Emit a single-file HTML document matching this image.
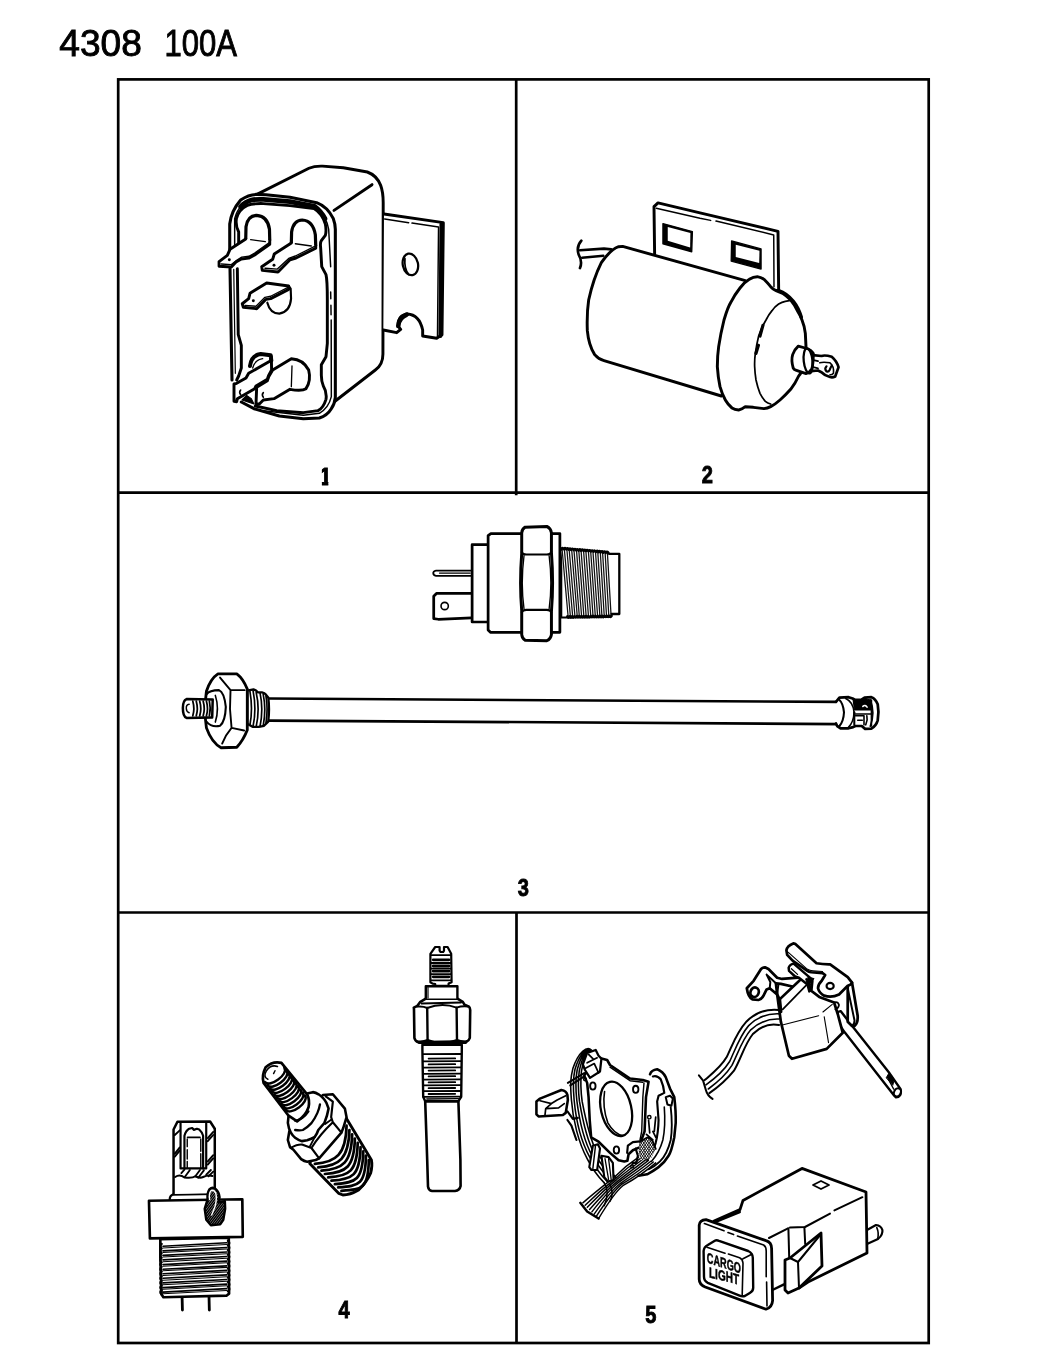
<!DOCTYPE html>
<html><head><meta charset="utf-8"><title>4308 100A</title>
<style>
html,body{margin:0;padding:0;background:#fff;}
body{width:1050px;height:1350px;overflow:hidden;position:relative;font-family:"Liberation Sans",sans-serif;}
svg{position:absolute;left:0;top:0;display:block;filter:grayscale(1);}
.s{fill:none;stroke:#000;stroke-width:2.2;stroke-linecap:round;stroke-linejoin:round;}
.t{fill:none;stroke:#000;stroke-width:1.5;stroke-linecap:round;stroke-linejoin:round;}
.w{fill:#fff;stroke:#000;stroke-width:2.2;stroke-linecap:round;stroke-linejoin:round;}
.f{fill:#000;stroke:#000;stroke-width:1;stroke-linejoin:round;}
.lbl{font-family:"Liberation Sans",sans-serif;font-weight:bold;font-size:24.5px;fill:#000;}
.ttl{font-family:"Liberation Sans",sans-serif;font-size:37px;fill:#000;}
</style></head><body>
<svg width="1050" height="1350" viewBox="0 0 1050 1350">
<!-- title -->
<g class="ttl" stroke="#000" stroke-width="0.9"><text x="59.3" y="55.6" textLength="82.5" lengthAdjust="spacingAndGlyphs">4308</text><text x="164.5" y="55.6" textLength="72.5" lengthAdjust="spacingAndGlyphs">100A</text></g>
<!-- frame -->
<g fill="none" stroke="#000" stroke-width="2.7" stroke-linejoin="miter">
<rect x="118.2" y="79.4" width="810.5" height="1263.6"/>
<path d="M516.2 79.4V495.2M118.2 492.7H928.7M118.2 912.5H928.7M516.5 912.5V1343"/>
</g>
<!-- labels -->
<!--LABELS-->
<g class="lbl" text-anchor="middle" stroke="#000" stroke-width="0.9">
<clipPath id="c1"><rect x="321.9" y="460" width="6.4" height="30"/></clipPath><g clip-path="url(#c1)"><text id="lb1" transform="translate(325.4 485) scale(0.9 1)" x="0" y="0">1</text></g>
<text id="lb2" transform="translate(707.4 483.1) scale(0.82 1)" x="0" y="0">2</text>
<text id="lb3" transform="translate(523.4 896.2) scale(0.82 1)" x="0" y="0">3</text>
<text id="lb4" transform="translate(344.2 1317.9) scale(0.82 1)" x="0" y="0">4</text>
<text id="lb5" transform="translate(650.8 1322.9) scale(0.82 1)" x="0" y="0">5</text>
</g>
<!--/LABELS-->
<!--P1-->
<!-- Panel 1: relay. coords = 7.5x zoom, origin (210,160) -->
<g transform="translate(210,160) scale(0.133333)" fill="none" stroke="#000" stroke-width="22" stroke-linecap="round" stroke-linejoin="round">
<!-- box body -->
<path d="M356 256L742 62Q783 44 844 46L1000 58L1180 90Q1250 115 1280 190Q1299 240 1299 320L1297 1455Q1297 1535 1240 1575L930 1815"/>
<path d="M930 378L1215 185"/>
<!-- bracket -->
<path d="M1305 405L1750 470L1740 1310L1700 1337L1595 1320L1595 1275Q1570 1160 1480 1155Q1410 1165 1410 1245L1430 1270L1400 1295L1300 1275" fill="#fff"/>
<path d="M1412 1245Q1415 1185 1475 1160" stroke-width="34"/>
<path d="M1310 442L1490 470M1515 473L1714 502L1706 1334" stroke-width="11"/>
<path d="M1736 480L1728 1320" stroke-width="30"/>
<ellipse cx="1503" cy="783" rx="57" ry="82" transform="rotate(-12 1503 783)" stroke-width="17"/>
<path d="M1462 740Q1455 815 1490 858" stroke-width="13"/>
<!-- front face outer outline -->
<path d="M148 670L148 480Q160 380 230 300Q290 258 350 258L420 260L600 280L800 320Q880 350 925 440Q940 480 940 520L940 1780Q935 1830 910 1865Q880 1915 820 1935L700 1940L520 1920L330 1865L235 1815" fill="#fff" stroke-width="23"/>
<path d="M150 815L165 1650" stroke-width="23"/>
<!-- thick top band -->
<path d="M230 350Q265 312 310 300Q340 294 400 296L600 312L785 348Q835 385 862 440" stroke-width="36"/>
<!-- rim thin line -->
<path d="M185 640L185 440Q200 380 240 340" stroke-width="11"/>
<path d="M860 430Q885 480 890 520L905 800" stroke-width="11"/>
<path d="M905 990L906 1040M907 1090L908 1160M909 1200L910 1775Q890 1860 820 1900L700 1915L400 1880" stroke-width="11"/>
<path d="M178 820L190 1600" stroke-width="9"/>
<!-- gasket line -->
<path d="M215 620L215 540Q190 490 198 440Q215 370 280 340Q320 325 400 327L600 342L780 364Q840 400 865 480Q875 530 865 565L835 605Q825 620 830 660L838 800L870 860Q880 900 880 1050L880 1375L870 1475L835 1535L835 1615Q835 1660 850 1695Q878 1740 870 1795Q850 1860 810 1880L700 1895L500 1880L340 1845"/>
<path d="M205 815L212 1310L235 1390L235 1560L215 1620L200 1650"/>
<!-- terminal 1 -->
<path d="M268 592L270 500Q282 418 350 415Q432 420 446 520L448 600" fill="#fff" stroke-width="24"/>
<path d="M268 592L150 670L130 715L68 762L68 797L160 802L195 765L235 742L290 736L335 712L448 632L448 600" fill="#fff"/>
<path d="M85 780L158 785L200 752L238 728L292 722L335 698L440 622" stroke-width="10"/>
<path d="M305 597L415 612" stroke-width="10"/>
<circle cx="145" cy="748" r="11" fill="#000" stroke="none"/>
<!-- terminal 2 -->
<path d="M610 622L612 540Q625 452 692 450Q772 455 790 560L793 640" fill="#fff" stroke-width="24"/>
<path d="M610 622L482 705L470 745L388 800L392 828L510 840L600 748L645 735L793 662L793 640" fill="#fff"/>
<path d="M412 812L505 818L590 738L640 720L785 648" stroke-width="10"/>
<path d="M640 628L760 645" stroke-width="10"/>
<circle cx="480" cy="790" r="11" fill="#000" stroke="none"/>
<!-- terminal 3 -->
<path d="M430 1070Q450 1150 520 1152Q600 1140 608 1040L605 965L590 945" stroke-width="16"/>
<path d="M590 945L425 922L300 1000L290 1040L242 1078L250 1105L350 1115L420 1045L455 1040L590 970Z" fill="#fff"/>
<path d="M262 1090L345 1097L412 1030L455 1022L585 955" stroke-width="10"/>
<circle cx="325" cy="1055" r="11" fill="#000" stroke="none"/>
<!-- terminal 5 (bottom right) -->
<path d="M470 1575L610 1490Q700 1495 740 1575Q760 1655 720 1715Q690 1735 600 1720L480 1790L400 1800L370 1830L345 1830L350 1705L430 1655L440 1625Z" fill="#fff"/>
<path d="M615 1545L610 1700" stroke-width="10"/>
<path d="M400 1745Q385 1760 400 1780" stroke-width="12"/>
<!-- terminal 4 (bottom left) -->
<path d="M300 1545Q310 1465 380 1455L455 1465L460 1505" stroke-width="30"/>
<path d="M455 1505L290 1600L270 1635L200 1675L180 1680L180 1810L200 1813L205 1790L335 1715L345 1695L430 1645L440 1615L462 1575L460 1475Z" fill="#fff"/>
<path d="M320 1560Q335 1500 395 1490" stroke-width="10"/>
<path d="M230 1725Q215 1740 230 1760" stroke-width="12"/>
<path d="M240 1800L275 1765L310 1790L330 1830Z" fill="#000" stroke-width="8"/>
</g>
<!--/P1-->
<!--P2-->
<!-- Panel 2: capacitor. coords = 7.5x zoom, origin (560,180) -->
<g transform="translate(560,180) scale(0.133333)" fill="none" stroke="#000" stroke-width="22" stroke-linecap="round" stroke-linejoin="round">
<!-- bracket -->
<path d="M710 580L705 200L735 172L1050 247L1635 385L1640 830L1300 800Z" fill="#fff"/>
<path d="M722 212L1050 287L1130 303M1170 308L1603 412L1605 800" stroke-width="11"/>
<path d="M772 327L993 387L988 538L772 478Z" fill="#000" stroke-width="10"/>
<path d="M808 352L978 398L976 506L808 456Z" fill="#fff" stroke="none"/>
<path d="M1287 457L1508 517L1508 668L1284 608Z" fill="#000" stroke-width="10"/>
<path d="M1318 485L1496 530L1494 622L1318 577Z" fill="#fff" stroke="none"/>
<!-- wire -->
<path d="M160 455Q120 500 140 560Q170 610 150 660" stroke-width="20"/>
<path d="M150 527L330 515L385 520" stroke-width="20"/>
<path d="M165 583L325 568" stroke-width="18"/>
<!-- cylinder body -->
<path d="M1390 755L470 498L440 500Q380 520 310 620Q250 740 215 900Q200 1000 205 1130Q215 1240 260 1310Q290 1345 330 1355L1210 1620L1400 1500Z" fill="#fff"/>
<!-- end cap -->
<path d="M1230 1050Q1260 950 1280 920Q1310 860 1350 810Q1385 765 1420 745Q1450 725 1480 725Q1510 730 1530 745Q1555 770 1580 800Q1600 822 1620 830L1670 850Q1700 870 1730 900Q1760 935 1780 980Q1800 1010 1815 1050Q1835 1100 1840 1150L1845 1250L1810 1440Q1800 1460 1790 1470Q1765 1525 1730 1570Q1690 1615 1650 1650Q1610 1685 1580 1700Q1555 1712 1530 1715L1450 1705L1390 1700Q1365 1720 1340 1725Q1310 1722 1290 1710Q1260 1685 1240 1650Q1215 1605 1200 1550Q1185 1480 1180 1400Q1180 1320 1190 1250Q1205 1150 1230 1050Z" fill="#fff"/>
<path d="M1720 905L1690 910Q1665 915 1640 930Q1610 950 1590 980Q1565 1010 1545 1050Q1510 1110 1490 1170Q1475 1230 1465 1300Q1458 1350 1460 1400Q1462 1450 1470 1500Q1482 1555 1500 1600Q1518 1635 1540 1660Q1558 1675 1580 1680" stroke-width="13"/>
<path d="M1522 1090L1500 1170M1488 1240L1470 1300" stroke-width="24"/>
<path d="M1640 830Q1700 850 1750 910Q1790 960 1810 1030" stroke-width="26"/>
<!-- terminal -->
<path d="M1884 1433L1935 1429L1961 1442Q1986 1468 2025 1478Q2044 1484 2064 1474L2089 1404Q2076 1359 2038 1326Q1986 1310 1961 1320L1896 1314Z" fill="#fff" stroke-width="20"/>
<path d="M1877 1346L1935 1359M1877 1397L1935 1413" stroke-width="13"/>
<path d="M1948 1371Q1974 1362 2025 1371Q2057 1397 2051 1449Q2040 1462 2025 1461" stroke-width="12"/>
<path d="M1999 1397Q1980 1416 1999 1436Q2015 1440 2022 1425Q2030 1404 2038 1391" stroke-width="16"/>
<path d="M1787 1246Q1755 1275 1745 1310Q1732 1352 1749 1410Q1755 1422 1768 1426L1845 1452Q1871 1446 1888 1418Q1900 1380 1900 1301Q1885 1272 1845 1262Z" fill="#fff" stroke-width="21"/>
<ellipse cx="1861" cy="1357" rx="33" ry="94" transform="rotate(-6 1861 1357)" stroke-width="17"/>
</g>
<!--/P2-->
<!--P3-->
<!-- Panel 3: sensor. coords = 4.375x zoom, origin (420,510) -->
<g transform="translate(420,510) scale(0.228571)" fill="none" stroke="#000" stroke-width="12" stroke-linecap="round" stroke-linejoin="round">
<path d="M225 265L70 265Q58 267 58 276Q58 286 70 288L225 288" fill="#fff" stroke-width="8"/>
<path d="M85 276L220 276" stroke-width="5"/>
<path d="M225 365L72 365L60 377L60 475L80 478L225 472" fill="#fff"/>
<circle cx="108" cy="420" r="16" stroke-width="7"/>
<path d="M300 152L228 152L228 490L300 490" fill="#fff"/>
<path d="M445 103L310 103L298 112L298 525L308 535L445 535" fill="#fff"/>
<path d="M578 103L612 103L612 535L578 535" fill="#fff"/>
<path d="M460 75L555 72Q572 80 575 100L575 185Q585 320 575 445L575 545Q572 565 555 572L460 570Q447 562 445 545L445 440Q435 320 445 190L445 100Q447 82 460 75Z" fill="#fff" stroke-width="13"/>
<path d="M445 185Q450 195 465 195L555 195Q570 195 575 183M445 447Q450 437 465 437L555 437Q570 437 575 447" stroke-width="9"/>
<path d="M455 200Q440 320 455 432M565 200Q580 320 565 432" stroke-width="6"/>
<path d="M618 172L618 470L645 470" stroke-width="9"/>
<path d="M618 172L824 188L838 463L645 466Z" fill="#fff" stroke="none"/>
<path d="M622 176L648 466M632 177L658 466M643 177L668 466M653 178L678 466M664 179L688 465M674 180L697 465M685 180L707 465M695 181L717 465M705 182L727 465M716 183L737 465M726 183L747 464M737 184L757 464M747 185L767 464M757 186L777 464M768 186L787 464M778 187L796 464M789 188L806 463M799 189L816 463M810 189L826 463M820 190L836 463" stroke-width="5.6" stroke="#111"/>
<path d="M618 172Q623 161 629 171Q634 162 640 172Q645 163 651 173Q656 164 661 174Q667 165 672 175Q678 166 683 176Q688 167 694 177Q699 168 705 178Q710 169 716 179Q721 170 726 179Q732 171 737 180Q743 172 748 181Q754 173 759 182Q764 174 770 183Q775 175 781 184Q786 176 791 185Q797 177 802 186Q808 178 813 187Q819 179 824 188" stroke-width="12"/>
<path d="M645 466Q650 475 655 466Q660 475 665 466Q670 475 675 466Q681 474 686 465Q691 474 696 465Q701 474 706 465Q711 474 716 465Q721 474 726 465Q731 474 736 465Q742 474 747 464Q752 473 757 464Q762 473 767 464Q772 473 777 464Q782 473 787 464Q792 473 797 464Q802 473 808 463Q813 472 818 463Q823 472 828 463Q833 472 838 463" stroke-width="12"/>
<path d="M828 192L872 192L872 455L838 455" stroke-width="10"/>
</g>
<!-- Panel 3: tube (real coords) -->
<g fill="none" stroke="#000" stroke-width="2.6" stroke-linecap="round" stroke-linejoin="round">
<path d="M268.6 698.5L838 701.9M268.6 720.6L838 724.1"/>
</g>
<!-- tube left end: coords = 9.545x zoom, origin (175,665) -->
<g transform="translate(175,665) scale(0.104762)" fill="none" stroke="#000" stroke-width="24" stroke-linecap="round" stroke-linejoin="round">
<!-- threaded neck -->
<path d="M690 245L750 232Q775 240 790 260L830 262Q855 268 870 285L890 310Q905 420 890 540L850 580L800 590L740 590L690 560Z" fill="#fff" stroke-width="22"/>
<path d="M715 250Q745 420 715 575M745 245Q780 420 745 585M775 262Q812 420 775 588M812 268Q845 420 812 585M842 280Q872 420 842 578M868 295Q890 420 868 555" stroke-width="16"/>
<!-- nut -->
<path d="M410 85L590 85Q650 130 690 230L690 620Q650 720 590 785L440 790Q350 740 300 600Q275 430 300 250Q340 130 410 85Z" fill="#fff" stroke-width="27"/>
<path d="M430 120L530 240L665 240M530 240L525 420L540 600L660 625M540 600Q480 670 450 750" stroke-width="18"/>
<!-- boss -->
<path d="M300 280Q330 240 420 240Q470 260 485 400Q480 540 430 580Q350 600 300 540" stroke-width="20"/>
<path d="M385 290Q425 415 385 545" stroke-width="15"/>
<!-- stud -->
<path d="M360 330L110 325Q75 340 75 410Q75 490 110 505L355 500Z" fill="#fff" stroke-width="24"/>
<path d="M170 345Q190 415 170 485M203 345Q223 415 203 485M236 345Q256 415 236 485M269 345Q289 415 269 485M300 345Q320 415 300 485M328 345Q345 415 328 485" stroke-width="17" stroke="#000"/>
<path d="M135 375Q105 380 108 415Q110 450 135 455" stroke-width="14"/>
</g>
<!-- tube right end: coords = 8.75x zoom, origin (780,670) -->
<g transform="translate(780,670) scale(0.114286)" fill="none" stroke="#000" stroke-width="22" stroke-linecap="round" stroke-linejoin="round">
<path d="M490 278L520 242L600 238L635 250L660 262L710 262L740 242L800 238Q835 250 855 300Q868 370 855 440Q840 490 800 512L745 515L715 490L660 490L640 500L600 510L530 510L500 490L490 468Z" fill="#fff" stroke="none"/><path d="M490 278L520 242L600 238L635 250L660 262L710 262L740 242L800 238Q835 250 855 300Q868 370 855 440Q840 490 800 512L745 515L715 490L660 490L640 500L600 510L530 510L500 490L490 468" stroke-width="24"/>
<path d="M520 262Q552 290 560 370Q556 450 520 490" stroke-width="18"/>
<path d="M575 250Q640 280 648 370Q645 455 600 500" stroke-width="14"/>
<path d="M640 262L720 262L745 250L790 262L800 300L800 350L652 350Z" fill="#000" stroke-width="10"/>
<path d="M725 318Q745 300 762 325" stroke="#fff" stroke-width="14"/>
<path d="M650 385L800 385M800 262L800 490" stroke-width="14"/>
<path d="M790 260Q835 370 790 492" stroke-width="14"/>
<path d="M660 400L735 400L735 480M680 440L720 440M760 400Q770 440 750 480" stroke-width="14"/>
<path d="M650 370L650 480" stroke-width="18"/>
</g>
<!--/P3-->
<!--P4-->
<!-- Panel 4: plug right. coords = 5x zoom, origin (380,930) -->
<g transform="translate(380,930) scale(0.2)" fill="none" stroke="#000" stroke-width="12" stroke-linecap="round" stroke-linejoin="round">
<path d="M226 856L236 1150L240 1283Q243 1303 260 1305L375 1305Q398 1303 403 1280L402 1150L392 856Z" fill="#fff" stroke-width="13"/>
<path d="M212 574L409 574L409 600L406 834L392 856L226 856L216 834L212 600Z" fill="#fff" stroke-width="12"/>
<path d="M216 621L403 620M216 657L403 656M216 688L403 687M216 719L403 718M216 748L403 747M216 777L403 776M216 806L403 805M216 834L403 833" stroke-width="9"/>
<path d="M243 643L376 642M243 672L376 671M243 703L376 702M243 732L376 731M243 762L376 761M243 791L376 790M243 820L376 819" stroke-width="9"/>
<path d="M234 845L392 843" stroke-width="7"/>
<path d="M169 388Q170 392 170 400L172 540Q176 556 192 562L240 560L385 558L430 560Q446 552 449 540L451 400Q450 388 445 383L423 374L414 359L387 343L229 343L200 361L187 379Z" fill="#fff" stroke-width="13"/>
<path d="M209 368L405 363" stroke-width="10"/>
<path d="M195 567L430 567" stroke-width="6"/>
<path d="M236 390L238 552M383 388L385 552" stroke-width="12"/>
<path d="M187 383Q215 380 236 390Q310 362 383 388Q410 378 440 382" stroke-width="10"/>
<path d="M185 556Q215 560 238 550Q310 580 385 550Q410 560 435 556" stroke-width="10"/>
<path d="M229 343L229 281L387 281L387 343" fill="#fff" stroke-width="12"/>
<path d="M240 288L240 340" stroke-width="6"/>
<path d="M276 279L276 270L263 268L252 261L252 119L276 85L298 85L298 103L303 110L316 110L320 103L320 85L338 85L356 119L358 261L343 268L343 279Z" fill="#fff" stroke-width="11"/>
<path d="M254 126L356 126M254 165L356 165M254 193L356 193M254 221L356 221M254 252L356 252" stroke-width="9"/>
<path d="M266 149L345 149M266 180L345 180M266 206L345 206M266 234L345 234" stroke-width="14"/>
</g>
<!-- Panel 4: angled fitting. coords = 7x zoom, origin (240,1040) -->
<g transform="translate(240,1040) scale(0.142857)" fill="none" stroke="#000" stroke-width="18" stroke-linecap="round" stroke-linejoin="round">
<path d="M740 540L920 840Q928 880 915 930Q890 990 830 1050Q770 1085 720 1085L692 1074L488 864L560 700Z" fill="#fff" stroke-width="20"/>
<path d="M524 867C674 857 741 800 746 600M547 891C697 881 760 830 766 630M570 914C720 904 780 860 785 660M594 938C744 928 800 890 804 690M617 962C767 952 819 920 824 720M640 985C790 975 838 950 844 750M664 1009C814 999 858 980 863 780M687 1032C837 1022 878 1010 882 810M710 1056C860 1046 897 1040 902 840" stroke-width="19"/>
<path d="M345 640L335 700L350 750L374 768L428 834Q450 850 470 852L530 840L554 828L710 648L722 618L746 540L734 480L650 380L580 385L480 500Z" fill="#fff" stroke-width="18"/>
<path d="M356 755Q400 730 434 732L500 756L554 828M500 756Q560 660 650 576L710 648M650 576L638 540L650 432L600 395" stroke-width="15"/>
<path d="M488 747L524 678M596 588L638 558" stroke-width="13"/>
<path d="M340 530L335 580Q340 620 356 648Q370 672 386 684Q410 702 434 708L470 702Q500 692 524 678Q540 655 548 630L590 582Q612 530 620 480L605 440Q595 420 580 405Q565 390 550 380Q530 368 510 365L470 375Z" fill="#fff" stroke-width="18"/>
<path d="M386 630Q420 636 440 630Q472 612 500 582Q525 548 542 510Q555 480 560 450" stroke-width="16"/>
<path d="M290 160L470 380Q490 420 480 470Q460 530 400 570L340 530L165 300Q150 250 180 190Q230 145 290 160Z" fill="#fff" stroke-width="19"/>
<path d="M175 294C208 338 343 238 310 194M192 316C224 360 359 260 327 216M208 337C240 382 375 282 343 237M224 359C256 403 391 303 359 259M240 381C272 425 407 325 375 281M256 402C289 447 424 347 391 302M272 424C305 468 440 368 407 324M288 446C321 490 456 390 423 346M304 468C337 512 472 412 439 368M320 489C353 533 488 433 455 389" stroke-width="17"/>
<path d="M195 275Q160 260 185 215Q215 170 262 185" stroke-width="11"/>
<path d="M235 235L245 215" stroke-width="10"/>
<path d="M385 565Q440 560 480 500" stroke-width="14"/>
</g>
<!-- Panel 4: sender left. coords = 6.4286x zoom, origin (130,1100) -->
<g transform="translate(130,1100) scale(0.155555)" fill="none" stroke="#000" stroke-width="16" stroke-linecap="round" stroke-linejoin="round">
<path d="M335 1270L337 1350M508 1265L510 1350" stroke-width="18"/>
<path d="M195 895L635 885L637 1245L620 1258L215 1268L203 1250L195 1010Z" fill="#fff" stroke-width="17"/>
<path d="M212 940L622 918M212 970L622 948M212 999L622 977M212 1028L622 1006M212 1058L622 1036M212 1088L622 1066M212 1117L622 1095M212 1146L622 1124M212 1176L622 1154M212 1206L622 1184M212 1235L622 1213" stroke-width="10.5"/>
<path d="M212 951L622 929M212 980L622 958M212 1010L622 988M212 1040L622 1018M212 1069L622 1047M212 1098L622 1076M212 1128L622 1106M212 1158L622 1136M212 1187L622 1165M212 1216L622 1194M212 1246L622 1224" stroke-width="6.5"/>
<path d="M203 925Q187 940 203 954Q187 970 203 984Q187 999 203 1014Q187 1028 203 1043Q187 1058 203 1072Q187 1088 203 1102Q187 1117 203 1132Q187 1146 203 1161Q187 1176 203 1190Q187 1206 203 1220Q187 1235 203 1250M630 905Q647 920 630 934Q647 950 630 964Q647 979 630 994Q647 1008 630 1023Q647 1038 630 1052Q647 1068 630 1082Q647 1097 630 1112Q647 1126 630 1141Q647 1156 630 1170Q647 1186 630 1200Q647 1215 630 1230" stroke-width="15"/>
<path d="M122 648L722 638L725 880L128 890Z" fill="#fff" stroke-width="17"/>
<path d="M255 640Q255 615 275 608L545 603" stroke-width="14"/>
<path d="M280 605L280 190L305 140L515 138L545 185L545 600" fill="#fff" stroke-width="16"/>
<path d="M325 150L325 440L490 440L490 150" stroke-width="14"/>
<path d="M350 440L350 230Q360 195 380 185L400 180L410 192L430 185L445 190Q462 205 470 230L470 440" stroke-width="14"/>
<path d="M370 240L450 240" stroke-width="11"/>
<path d="M368 250L368 300M368 320L368 380M368 395L368 435M455 250L455 330M455 345L455 435" stroke-width="9"/>
<path d="M290 495Q320 475 350 498Q400 505 420 490Q450 505 470 495Q500 480 530 488" stroke-width="13"/>
<path d="M330 470L350 448M352 495L385 450M420 490L450 450M440 498L475 452M490 480L520 450M505 490L535 460" stroke-width="12"/>
<path d="M288 225L320 195M288 365L320 325M288 345L320 305M500 245L535 205M500 265L535 225M500 415L535 375M500 395L535 355" stroke-width="12"/>
<path d="M498 640Q495 600 510 575Q530 555 550 572Q572 590 576 625L570 660L610 650L612 700L600 770L580 800L520 805L490 770L480 700Z" fill="#fff" stroke-width="15"/>
<clipPath id="blobc"><path d="M498 640Q495 600 510 575Q530 555 550 572Q572 590 576 625L570 660L610 650L612 700L600 770L580 800L520 805L490 770L480 700Z"/></clipPath>
<g clip-path="url(#blobc)"><path d="M340 810L530 560M355 810L545 560M370 810L560 560M385 810L575 560M400 810L590 560M415 810L605 560M430 810L620 560M445 810L635 560M460 810L650 560M475 810L665 560M490 810L680 560M505 810L695 560M520 810L710 560M535 810L725 560M550 810L740 560M565 810L755 560M580 810L770 560M595 810L785 560" stroke-width="10"/></g>
<path d="M512 640Q505 600 522 582Q540 575 552 600Q560 640 545 690L525 740" stroke="#fff" stroke-width="9"/>
</g>
<!--/P4-->
<!--P5-->
<!--P5B-->
<!-- Panel 5: turn signal plate. coords = 7x zoom, origin (530,1040) -->
<g transform="translate(530,1040) scale(0.142857)" fill="none" stroke="#000" stroke-width="17" stroke-linecap="round" stroke-linejoin="round">
<path d="M840 240Q850 210 890 205Q930 220 950 260L980 340L1010 400Q1022 500 1020 580L1010 680Q990 780 970 810Q940 860 900 890Q860 920 820 940L760 950L740 900L800 700L820 300Z" fill="#fff" stroke="none"/>
<path d="M840 240Q850 210 890 205Q930 220 950 260L980 340L1010 400Q1022 500 1020 580L1010 680Q990 780 970 810Q940 860 900 890Q860 920 820 940L760 950" stroke-width="18"/>
<path d="M860 255Q890 245 915 275Q935 320 940 370L900 390L890 430L900 560Q898 650 880 720Q860 790 820 840" stroke-width="15"/>
<path d="M950 400L980 390L1000 410L990 460L962 452Z" fill="#fff" stroke-width="14"/>
<path d="M985 470Q1000 600 985 700Q960 800 910 850Q870 890 830 905" stroke-width="13"/>
<path d="M940 470Q950 600 930 700Q905 790 850 850" stroke-width="11"/>
<circle cx="835" cy="540" r="12" stroke-width="10"/>
<path d="M830 560L838 650M880 540L870 640M860 640L880 680M815 660L860 700" stroke-width="12"/>
<path d="M430 70C400 40 340 80 300 200C285 260 280 300 290 420C300 560 340 720 400 830C440 910 480 960 520 1000M425 75C398 50 350 90 315 205C302 262 298 305 309 422C322 560 360 715 418 820C460 898 500 950 540 990M420 80C395 60 360 100 330 210C320 265 315 310 328 425C345 560 380 710 435 810C480 885 520 940 560 980M415 85C392 70 370 110 345 215C338 268 332 315 346 428C368 560 400 705 452 800C500 872 540 930 580 970M410 90C390 80 380 120 360 220C355 270 350 320 365 430C390 560 420 700 470 790C520 860 560 920 600 960" stroke-width="11"/>
<path d="M265 300L380 232M282 318L388 250" stroke-width="14"/>
<path d="M45 430L70 410L220 350Q255 355 262 385L265 420L250 510L230 525L60 535L45 520Z" fill="#fff" stroke-width="18"/>
<path d="M70 425L150 445L190 420L250 390M150 445L110 480L105 525M110 480L200 475L240 445" stroke-width="12"/>
<path d="M262 500L300 552L335 545M262 560L290 600L325 700" stroke-width="15"/>
<path d="M760 820C700 860 640 910 590 960C540 1000 450 1070 370 1140M777 826C714 870 651 920 599 969C549 1009 463 1081 386 1156M794 831C729 880 663 930 607 977C557 1017 476 1093 401 1171M811 837C743 890 674 940 616 986C566 1026 489 1104 417 1187M829 843C757 900 686 950 624 994C574 1034 501 1116 433 1203M846 849C771 910 697 960 633 1003C583 1043 514 1127 449 1219M863 854C786 920 709 970 641 1011C591 1051 527 1139 464 1234M880 860C800 930 720 980 650 1020C600 1060 540 1150 480 1250" stroke-width="10"/>
<path d="M352 1140L400 1200L480 1250" stroke-width="17"/>
<path d="M520 1000Q560 1060 520 1160M560 1010Q590 1080 560 1130" stroke-width="10"/>
<path d="M400 300L380 250L420 180L500 130L540 140L560 175L700 270L790 280L830 292L812 400L802 640L780 700L770 750L720 772L690 800L682 845L660 850L620 842L560 790L480 712L428 682L418 560L410 400Z" fill="#fff" stroke-width="18"/>
<path d="M560 190L700 285L790 296" stroke-width="10"/>
<path d="M798 300L790 400L782 640L770 700" stroke-width="10"/>
<ellipse cx="603" cy="482" rx="106" ry="194" transform="rotate(-13 603 482)" stroke-width="16"/>
<path d="M522 360Q505 470 545 580Q590 660 650 668" stroke-width="11"/>
<ellipse cx="440" cy="322" rx="19" ry="25" stroke-width="13"/><ellipse cx="740" cy="345" rx="19" ry="25" stroke-width="13"/><ellipse cx="605" cy="770" rx="19" ry="25" stroke-width="13"/>
<circle cx="385" cy="275" r="10" stroke-width="10"/>
<path d="M370 170L400 90L460 70L480 110L500 130L490 220L420 265L385 210Z" fill="#fff" stroke-width="16"/>
<path d="M400 160L470 125M385 200L450 165L480 230M410 100L440 130" stroke-width="12"/>
<clipPath id="xh"><path d="M770 712L820 682L860 712L880 762L850 822L780 842L760 792Z"/></clipPath>
<g clip-path="url(#xh)"><path d="M750 660H900V860H750Z" fill="#fff" stroke="none"/><path d="M520 860L660 660M520 660L660 860M538 860L678 660M538 660L678 860M556 860L696 660M556 660L696 860M574 860L714 660M574 660L714 860M592 860L732 660M592 660L732 860M610 860L750 660M610 660L750 860M628 860L768 660M628 660L768 860M646 860L786 660M646 660L786 860M664 860L804 660M664 660L804 860M682 860L822 660M682 660L822 860M700 860L840 660M700 660L840 860M718 860L858 660M718 660L858 860M736 860L876 660M736 660L876 860M754 860L894 660M754 660L894 860M772 860L912 660M772 660L912 860M790 860L930 660M790 660L930 860M808 860L948 660M808 660L948 860M826 860L966 660M826 660L966 860M844 860L984 660M844 660L984 860M862 860L1002 660M862 660L1002 860M880 860L1020 660M880 660L1020 860M898 860L1038 660M898 660L1038 860M916 860L1056 660M916 660L1056 860M934 860L1074 660M934 660L1074 860" stroke-width="6"/></g>
<path d="M770 712L820 682Q850 690 860 712L880 762" stroke-width="13"/>
<path d="M680 790L685 740L720 715L770 710M740 760L755 810L745 860L715 860" stroke-width="15"/>
<circle cx="715" cy="885" r="10" stroke-width="10"/>
<path d="M440 740L475 730L490 760L470 910L430 910L415 890Z" fill="#fff" stroke-width="15"/>
<path d="M458 745L440 900" stroke-width="10"/>
<path d="M500 810L550 820L580 860L585 980L545 990L520 960Z" fill="#fff" stroke-width="15"/>
<path d="M525 830L550 975M550 830L568 975" stroke-width="9"/>
</g>
<!--/P5B-->
<!--P5A-->
<!-- Panel 5: switch w/ rod. wires coords = 9.545x zoom, origin (690,990) -->
<g transform="translate(690,990) scale(0.104762)" fill="none" stroke="#000" stroke-width="19" stroke-linecap="round" stroke-linejoin="round">
<path d="M845 190C740 180 640 200 540 300C440 410 400 540 350 640C300 730 210 800 140 860"/>
<path d="M855 228C740 222 650 250 560 340C480 430 430 570 380 680C330 760 230 850 152 905" stroke-width="15"/>
<path d="M850 277C760 272 670 300 580 380C500 470 455 610 400 720C350 800 250 890 175 945" stroke-width="15"/>
<path d="M850 335C760 318 680 340 600 420C520 520 490 650 420 770C340 870 250 940 185 985"/>
<path d="M85 815L125 865L150 950Q165 1010 215 1040" stroke-width="19"/>
</g>
<!-- rod (real coords) -->
<g fill="none" stroke="#000" stroke-width="2.4" stroke-linecap="round" stroke-linejoin="round">
<path d="M835.9 1019.7Q835 1012 840.6 1011.1L853.4 1027.4L888.6 1072L900.6 1089.1Q902 1097 896 1097.3L893.7 1095.1L844.9 1032.6Z" fill="#fff"/>
<ellipse cx="897.4" cy="1092.4" rx="3.3" ry="4.2" transform="rotate(25 897.4 1092.4)" fill="#fff" stroke-width="2"/>
<path d="M886.4 1077.5L888.6 1073.7L892.4 1076.3L893.7 1081.4L892.9 1084.9Z" fill="#000" stroke-width="1"/>
<path d="M888.6 1079.7L893.7 1089.1" stroke-width="1.3"/>
</g>
<!-- body coords = 8.077x zoom, origin (740,935) -->
<g transform="translate(740,935) scale(0.12381)" fill="none" stroke="#000" stroke-width="22" stroke-linecap="round" stroke-linejoin="round">
<!-- bracket right -->
<path d="M870 410L905 385L950 650Q955 710 925 735L905 735L870 700Z" fill="#fff"/>
<path d="M872 440L925 690Q925 720 905 735" stroke-width="16"/>
<!-- left arm tube -->
<path d="M55 430L110 370L170 275Q185 260 205 262L230 275L300 345L340 355L470 345L520 345L550 400L440 420L330 395L290 390L300 480L240 430L215 440L190 490Q175 520 150 525L100 520Q65 500 55 430Z" fill="#fff"/>
<ellipse cx="118" cy="462" rx="33" ry="39" transform="rotate(20 118 462)" stroke-width="22"/>
<path d="M215 320L245 380L240 430M215 320L290 390M310 400L300 480" stroke-width="16"/>
<!-- box -->
<path d="M300 480L320 520L500 350L545 345L575 450L640 500L760 545L790 640L830 790L700 920L420 1000L395 975L330 700Z" fill="#fff"/>
<path d="M345 600L540 400" stroke-width="14"/>
<path d="M320 520L330 620" stroke-width="26"/>
<path d="M350 725L635 652M680 660L715 870M670 622L745 560" stroke-width="9"/>
<path d="M760 545Q790 535 800 565Q795 595 770 600" stroke-width="14"/>
<!-- second lever -->
<path d="M393 265Q398 240 433 231L560 340L585 370L578 440L560 455L545 400L476 345L445 335L396 289Z" fill="#fff" stroke-width="20"/>
<path d="M415 272L465 318" stroke-width="10"/>
<path d="M531 357L562 455L578 431L568 394L598 352L560 342Z" fill="#000" stroke-width="8"/>
<!-- pivot plate + top lever -->
<path d="M430 68L445 71L618 228Q670 238 728 237L870 340L905 385Q900 400 870 410L800 480Q740 510 680 490Q640 470 630 430Q630 400 660 370L688 323L667 308L575 301Q555 297 544 289L427 209L381 160L375 123Q380 88 430 68Z" fill="#fff"/>
<path d="M390 140L538 272Q565 288 590 290L667 295" stroke-width="9"/>
<ellipse cx="728" cy="412" rx="29" ry="25" stroke-width="17"/>
</g>
<!--/P5A-->
<!--P5C-->
<!-- Panel 5: cargo light switch. coords = 5x zoom, origin (690,1150) -->
<g transform="translate(690,1150) scale(0.2)" fill="none" stroke="#000" stroke-width="13.5" stroke-linecap="round" stroke-linejoin="round">
<!-- pin -->
<path d="M885 400L930 375Q955 378 962 400Q965 425 940 445L885 470" fill="#fff" stroke-width="11"/>
<path d="M934 388Q946 415 938 446" stroke-width="8"/>
<!-- body -->
<path d="M120 355L250 298L265 252L560 92L880 210L885 515L590 660L545 690L410 700L390 440Z" fill="#fff" stroke="none"/><path d="M120 355L250 298L265 252L560 92L880 210L885 515L590 660L545 690" stroke-width="14"/>
<path d="M125 360L248 310" stroke-width="14"/>
<path d="M395 440L490 392M500 388L575 385L700 318M722 302L862 236" stroke-width="10"/>
<path d="M615 175L655 155L695 175L655 195Z" stroke-width="9"/>
<path d="M412 700L470 672" stroke-width="12"/>
<!-- clip -->
<path d="M492 392L496 540M572 388L576 470" stroke-width="10"/>
<path d="M475 550L500 540L655 415L660 580L545 690L490 715L475 700Z" fill="#fff" stroke-width="14"/>
<path d="M500 540L540 560L545 690M540 560L655 420" stroke-width="10"/>
<!-- bezel -->
<path d="M46 376Q48 350 80 348L380 453Q408 462 408 492L413 753Q410 788 380 796L76 685Q46 672 46 646Z" fill="#fff" stroke-width="14"/>
<path d="M72 368L170 404M190 413L218 423M237 430L368 475Q381 483 381 505L381 634M383 660L385 780" stroke-width="8"/>
<!-- button -->
<path d="M68 505Q70 484 89 475L124 454Q132 449 145 454L291 505Q314 516 314 539L316 689Q316 706 299 715L274 730Q261 734 248 728L89 664Q70 655 70 634Z" fill="#fff" stroke-width="12"/>
<path d="M85 486L175 516M192 520L248 539Q263 546 265 565L261 728M265 544L304 524" stroke-width="8"/>
<g fill="#000" stroke="#000" stroke-width="2.5" font-family="'Liberation Sans',sans-serif" font-weight="bold" font-size="73">
<text transform="matrix(1 0.316 0 1 84 563)" x="0" y="0" textLength="171" lengthAdjust="spacingAndGlyphs">CARGO</text>
<text transform="matrix(1 0.25 0 1 95 636)" x="0" y="0" textLength="150" lengthAdjust="spacingAndGlyphs">LIGHT</text>
</g>
</g>
<!--/P5C-->
<!--/P5-->
</svg>
</body></html>
